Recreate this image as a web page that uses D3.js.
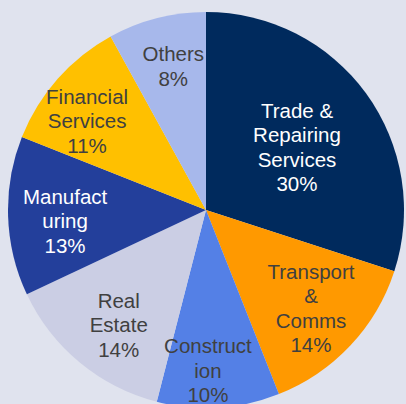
<!DOCTYPE html>
<html>
<head>
<meta charset="utf-8">
<script src="https://cdn.jsdelivr.net/npm/d3@7"></script>
<style>
  html, body { margin: 0; padding: 0; background: #E0E3EE; }
  svg { display: block; }
</style>
</head>
<body>
<svg id="chart" width="406" height="404"></svg>
<script>
// ---- data ----
const categories = ["Trade & Repairing Services", "Transport & Comms", "Construction", "Real Estate", "Manufacturing", "Financial Services", "Others"];
const labelLines = [
  ["Trade &", "Repairing", "Services"],
  ["Transport", "&", "Comms"],
  ["Construct", "ion"],
  ["Real", "Estate"],
  ["Manufact", "uring"],
  ["Financial", "Services"],
  ["Others"]
];
const shares = [30, 14, 10, 14, 13, 11, 8];

// ---- layout / style ----
const colors = ["#002A5D", "#FF9900", "#5480E6", "#CBCEE4", "#233F9B", "#FFC000", "#A7B8EB"];
const textColors = ["#FFFFFF", "#404040", "#404040", "#404040", "#FFFFFF", "#404040", "#404040"];
const labelRadiusFactor = [0.559, 0.725, 0.81, 0.729, 0.714, 0.75, 0.746];
const labelAngleOffsetDeg = [1.3, -0.2, 2.9, -2.4, -2.7, -4.6, 1.6];

const W = 406, H = 404;
const cx = 206, cy = 210, R = 198;
const fontSize = 20.5, lineH = 24.5;

const svg = d3.select("#chart");
svg.append("rect").attr("width", W).attr("height", H).attr("fill", "#E0E3EE");

const pie = d3.pie().sort(null).value(d => d)(shares);
const arc = d3.arc().innerRadius(0).outerRadius(R);

const g = svg.append("g").attr("transform", `translate(${cx},${cy})`);

g.selectAll("path.slice")
  .data(pie)
  .join("path")
  .attr("class", "slice")
  .attr("d", arc)
  .attr("fill", (d, i) => colors[i]);

g.selectAll("text.lbl")
  .data(pie)
  .join("text")
  .attr("class", "lbl")
  .attr("font-family", "Liberation Sans, Arial, sans-serif")
  .attr("font-size", fontSize)
  .attr("fill", (d, i) => textColors[i])
  .attr("text-anchor", "middle")
  .each(function(d, i) {
    const r = R * labelRadiusFactor[i];
    const off = labelAngleOffsetDeg[i] * Math.PI / 180;
    const c = d3.arc().innerRadius(r).outerRadius(r)
      .centroid({ startAngle: d.startAngle + off, endAngle: d.endAngle + off });
    const lines = labelLines[i].concat([shares[i] + "%"]);
    const n = lines.length;
    const t = d3.select(this);
    lines.forEach((ln, k) => {
      t.append("tspan")
        .attr("x", c[0])
        .attr("y", c[1] + (k - (n - 1) / 2) * lineH + fontSize * 0.36)
        .text(ln);
    });
  });
</script>
</body>
</html>
